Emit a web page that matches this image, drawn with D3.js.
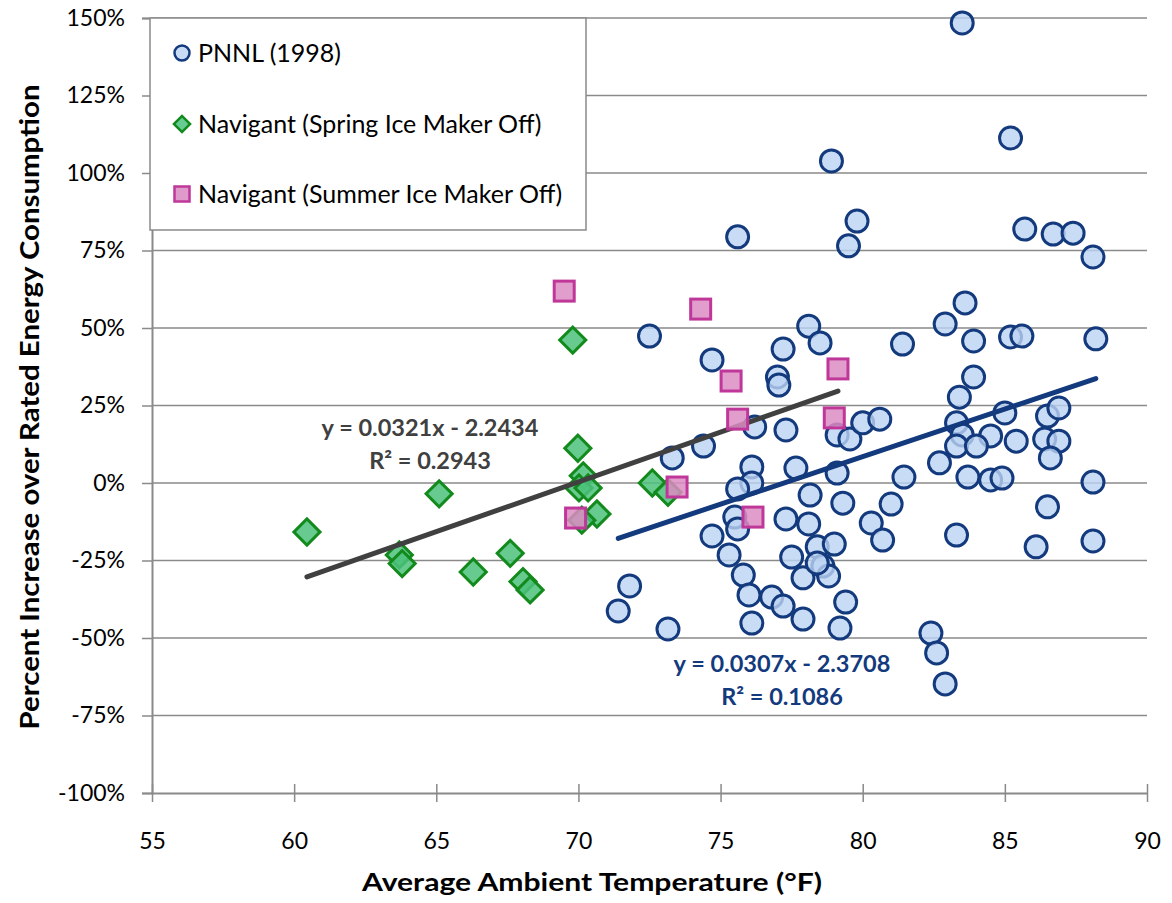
<!DOCTYPE html>
<html>
<head>
<meta charset="utf-8">
<script src="https://cdn.jsdelivr.net/npm/d3@7/dist/d3.min.js"></script>
<style>
  body { margin: 0; background: #fff; }
  text { font-family: Lato, "Open Sans", sans-serif; }
</style>
</head>
<body>
<svg id="chart" width="1172" height="903"></svg>
<script>
// PNNL (1998) - [temperature F, percent increase]
var pnnl = [
    [83.5, 148.4], [78.9, 103.9], [75.6, 79.4], [79.8, 84.5], [79.5, 76.5],
    [85.2, 111.3], [85.7, 81.9], [86.7, 80.3], [87.4, 80.6], [88.1, 72.9],
    [72.5, 47.4], [74.7, 39.7], [77.2, 43.2], [77.0, 34.2], [77.05, 31.6],
    [78.1, 50.6], [78.5, 45.2], [81.4, 44.8], [76.2, 18.1], [77.3, 17.1],
    [74.4, 11.9], [79.1, 15.5], [79.55, 14.2], [80.0, 19.4], [80.6, 20.6],
    [83.6, 58.1], [82.9, 51.3], [83.9, 45.8], [85.2, 47.1], [85.6, 47.4],
    [88.2, 46.5], [83.9, 34.2], [83.4, 27.7], [83.3, 19.4], [85.0, 22.6],
    [86.5, 21.6], [86.9, 24.2], [83.5, 15.5], [84.5, 15.2], [85.4, 13.5],
    [86.4, 14.2], [86.9, 13.5], [83.3, 11.9], [84.0, 11.9], [73.3, 8.1],
    [76.1, 5.2], [76.1, 0.0], [75.6, -1.9], [75.5, -11.0], [75.6, -14.8],
    [74.7, -17.1], [75.3, -23.2], [75.8, -29.7], [76.0, -36.1], [76.8, -36.8],
    [77.2, -39.7], [76.1, -45.2], [77.9, -43.9], [79.2, -46.8], [79.4, -38.4],
    [73.15, -47.1], [71.8, -33.2], [71.4, -41.3], [77.65, 4.8], [78.15, -3.9],
    [79.1, 3.2], [79.3, -6.5], [77.3, -11.6], [78.1, -13.2], [77.5, -23.9],
    [78.4, -20.6], [79.0, -19.7], [78.6, -26.8], [78.8, -30.0], [77.9, -30.6],
    [78.4, -25.8], [80.3, -12.9], [81.0, -6.8], [80.7, -18.4], [81.45, 1.9],
    [82.7, 6.5], [83.7, 1.9], [84.5, 1.0], [84.9, 1.6], [86.6, 8.1],
    [88.1, 0.3], [86.5, -7.7], [83.3, -16.8], [86.1, -20.6], [88.1, -18.7],
    [82.4, -48.4], [82.6, -54.8], [82.9, -64.8]
];

// Navigant (Spring Ice Maker Off)
var spring = [
    [60.45, -15.8], [69.8, 46.1], [69.98, 11.2], [65.1, -3.5], [63.7, -23.2],
    [63.8, -26.0], [66.3, -28.7], [67.6, -22.7], [68.05, -31.8], [68.3, -34.5],
    [70.17, 2.3], [70.02, -1.6], [70.34, -1.6], [70.65, -10.0], [70.12, -12.0],
    [72.6, 0.0], [73.15, -3.0]
];

// Navigant (Summer Ice Maker Off)
var summer = [
    [69.5, 61.9], [74.3, 56.1], [75.37, 32.9], [79.13, 36.8], [75.6, 20.6],
    [79.0, 21.0], [69.9, -11.3], [73.47, -1.3], [76.14, -11.0]
];

// trendlines (fraction units, as in excel labels)
var navigantFit = {slope: 0.0321, intercept: -2.2434, r2: 0.2943};
var pnnlFit = {slope: 0.0307, intercept: -2.3708, r2: 0.1086};

var xTicks = [55, 60, 65, 70, 75, 80, 85, 90];
var yTicks = [-100, -75, -50, -25, 0, 25, 50, 75, 100, 125, 150];
var legendLabels = ["PNNL (1998)", "Navigant (Spring Ice Maker Off)", "Navigant (Summer Ice Maker Off)"];

var svg = d3.select("#chart");

var x = d3.scaleLinear().domain([55, 90]).range([152, 1147]);
var y = d3.scaleLinear().domain([-100, 150]).range([793, 18]);

var AXIS_GREY = "#8a8a8a";
var BLUE = "#143a7e";

// gridlines
svg.append("g").selectAll("line")
    .data(yTicks.filter(function (t) { return t > -100; }))
    .enter().append("line")
    .attr("x1", x(55)).attr("x2", x(90))
    .attr("y1", function (d) { return y(d); })
    .attr("y2", function (d) { return y(d); })
    .style("stroke", AXIS_GREY)
    .style("stroke-width", 1.5);

// y axis
var yAxis = d3.axisLeft(y).tickValues(yTicks).tickSize(10)
    .tickFormat(function (d) { return d + "%"; });
var gy = svg.append("g").attr("transform", "translate(" + x(55) + ",0)").call(yAxis);
gy.select(".domain").style("stroke", AXIS_GREY).style("stroke-width", 2);
gy.selectAll(".tick line").style("stroke", AXIS_GREY).style("stroke-width", 1.5);
gy.selectAll(".tick text")
    .attr("x", -27)
    .style("font-family", "Lato, sans-serif")
    .style("font-size", "23px")
    .style("fill", "#000");

// x axis with crossing ticks
var xAxis = d3.axisBottom(x).tickValues(xTicks).tickSizeInner(9).tickSizeOuter(0);
var gx = svg.append("g").attr("transform", "translate(0," + y(-100) + ")").call(xAxis);
gx.select(".domain").style("stroke", AXIS_GREY).style("stroke-width", 2);
gx.selectAll(".tick line").attr("y1", -9).style("stroke", AXIS_GREY).style("stroke-width", 1.5);
gx.selectAll(".tick text")
    .attr("y", 40)
    .style("font-family", "Lato, sans-serif")
    .style("font-size", "23px")
    .style("fill", "#000");

// axis titles
svg.append("text")
    .attr("x", 592).attr("y", 891)
    .attr("text-anchor", "middle")
    .attr("textLength", 460).attr("lengthAdjust", "spacingAndGlyphs")
    .style("font-weight", "bold").style("font-size", "25px").style("fill", "#000")
    .text("Average Ambient Temperature (°F)");

svg.append("text")
    .attr("transform", "translate(39,407) rotate(-90)")
    .attr("text-anchor", "middle")
    .attr("textLength", 645).attr("lengthAdjust", "spacingAndGlyphs")
    .style("font-weight", "bold").style("font-size", "26px").style("fill", "#000")
    .text("Percent Increase over Rated Energy Consumption");

// legend box
svg.append("rect")
    .attr("x", 150).attr("y", 18).attr("width", 436).attr("height", 212)
    .style("fill", "#fff").style("stroke", AXIS_GREY).style("stroke-width", 1.5);

var diamond = d3.symbol().type(d3.symbolSquare);

// PNNL circles
svg.append("g").selectAll("circle")
    .data(pnnl)
    .enter().append("circle")
    .attr("cx", function (d) { return x(d[0]); })
    .attr("cy", function (d) { return y(d[1]); })
    .attr("r", 11)
    .style("fill", "#bcd3f4").style("fill-opacity", 0.8)
    .style("stroke", BLUE).style("stroke-width", 3);

// spring diamonds
svg.append("g").selectAll("path")
    .data(spring)
    .enter().append("path")
    .attr("d", diamond.size(340)())
    .attr("transform", function (d) {
        return "translate(" + x(d[0]) + "," + y(d[1]) + ") rotate(45)";
    })
    .style("fill", "#4cc27c").style("fill-opacity", 0.85)
    .style("stroke", "#138a1c").style("stroke-width", 3);

// trendlines
function drawTrend (data, fit, color) {
    var ext = d3.extent(data, function (d) { return d[0]; });
    svg.append("line")
        .attr("x1", x(ext[0])).attr("y1", y((fit.slope * ext[0] + fit.intercept) * 100))
        .attr("x2", x(ext[1])).attr("y2", y((fit.slope * ext[1] + fit.intercept) * 100))
        .style("stroke", color).style("stroke-width", 5).style("stroke-linecap", "round");
}
drawTrend(spring.concat(summer), navigantFit, "#404040");
drawTrend(pnnl, pnnlFit, BLUE);

// summer squares
svg.append("g").selectAll("rect")
    .data(summer)
    .enter().append("rect")
    .attr("x", function (d) { return x(d[0]) - 10; })
    .attr("y", function (d) { return y(d[1]) - 10; })
    .attr("width", 20).attr("height", 20)
    .style("fill", "#dc8cc2").style("fill-opacity", 0.85)
    .style("stroke", "#c0379a").style("stroke-width", 3);

// trendline labels
function fitLabel (cx, cy, fit, color) {
    var g = svg.append("g").style("font-weight", "bold").style("font-size", "23.5px").style("fill", color);
    g.append("text").attr("x", cx).attr("y", cy).attr("text-anchor", "middle")
        .text("y = " + fit.slope.toFixed(4) + "x  - " + Math.abs(fit.intercept).toFixed(4));
    g.append("text").attr("x", cx).attr("y", cy + 33).attr("text-anchor", "middle")
        .text("R² = " + fit.r2.toFixed(4));
}
fitLabel(430, 436, navigantFit, "#404040");
fitLabel(782, 672, pnnlFit, BLUE);

// legend items
var legend = svg.append("g").style("font-size", "25px").style("fill", "#000");
legend.append("circle").attr("cx", 182).attr("cy", 53).attr("r", 7.5)
    .style("fill", "#c9dcf6").style("stroke", BLUE).style("stroke-width", 2.5);
legend.append("path").attr("d", diamond.size(130)())
    .attr("transform", "translate(182,124) rotate(45)")
    .style("fill", "#66cc92").style("stroke", "#138a1c").style("stroke-width", 2.5);
legend.append("rect").attr("x", 174.5).attr("y", 186.5).attr("width", 15).attr("height", 15)
    .style("fill", "#df9acb").style("stroke", "#c0379a").style("stroke-width", 2.5);
legend.selectAll("text")
    .data(legendLabels)
    .enter().append("text")
    .attr("x", 198)
    .attr("y", function (d, i) { return [62, 133, 203][i]; })
    .text(function (d) { return d; });
</script>
</body>
</html>
